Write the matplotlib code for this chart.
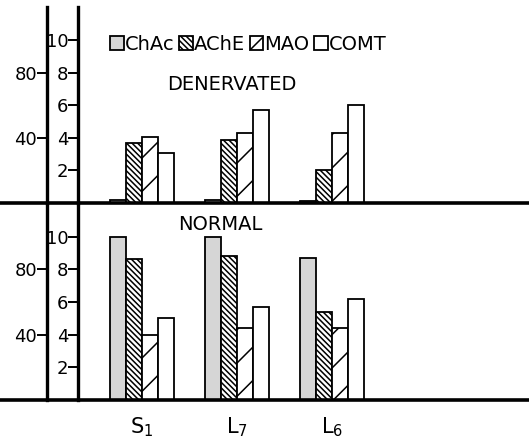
import matplotlib
matplotlib.use('Agg')
import matplotlib.pyplot as plt
import numpy as np

# values (inner scale 0-10, outer scale = inner x 10)
sites = ['S$_1$', 'L$_7$', 'L$_6$']
enzymes = ['ChAc', 'AChE', 'MAO', 'COMT']

den_chac = [0.2, 0.2, 0.1]
den_ache = [3.7, 3.9, 2.0]
den_mao = [4.05, 4.3, 4.3]
den_comt = [3.1, 5.7, 6.05]

nor_chac = [10.0, 10.0, 8.7]
nor_ache = [8.6, 8.8, 5.4]
nor_mao = [4.0, 4.4, 4.4]
nor_comt = [5.0, 5.7, 6.15]

inner_ticks = [2, 4, 6, 8, 10]
outer_ticks = [40, 80]

plt.rcParams['font.family'] = 'DejaVu Sans'
plt.rcParams['hatch.linewidth'] = 1.1

W, H = 529, 442
fig = plt.figure(figsize=(W / 100, H / 100), dpi=100)

faces = ['#d6d6d6', 'white', 'white', 'white']
hatches = ['', '\\' * 6, '/', '']
bar_w = 0.168
offsets = (np.arange(4) - 1.5) * bar_w
x = np.arange(len(sites))


def panel(rect, series, label, label_pos):
    ax = fig.add_axes(rect)
    ax.patch.set_visible(False)
    for i, vals in enumerate(series):
        ax.bar(x + offsets[i], vals, bar_w, color=faces[i], hatch=hatches[i],
               edgecolor='black', linewidth=1.3, label=enzymes[i], zorder=2)
    ax.set_xlim(-142 / 95, (W - 142) / 95)
    ax.set_ylim(0, 12.05)
    for s in ['top', 'right']:
        ax.spines[s].set_visible(False)
    ax.spines['bottom'].set_linewidth(2.6)
    ax.spines['left'].set_linewidth(2.4)
    ax.spines['left'].set_position(('axes', 78 / W))
    ax.set_yticks(inner_ticks)
    ax.tick_params(axis='y', direction='out', length=7, width=1.4,
                   labelsize=13, pad=0)

    sec = ax.secondary_yaxis(47 / W, functions=(lambda v: v * 10, lambda v: v / 10))
    sec.set_yticks(outer_ticks)
    sec.spines['left'].set_linewidth(2.4)
    sec.tick_params(axis='y', direction='out', length=7, width=1.4,
                    labelsize=13, pad=0)

    ax.text(label_pos[0], label_pos[1], label, transform=ax.transAxes,
            ha='center', va='center', fontsize=14)
    return ax


top = panel([0, (H - 203) / H, 1, 196 / H],
            [den_chac, den_ache, den_mao, den_comt], 'DENERVATED',
            (232 / W, (203 - 84) / 196))
top.set_xticks([])

bot = panel([0, (H - 400) / H, 1, 197 / H],
            [nor_chac, nor_ache, nor_mao, nor_comt], 'NORMAL',
            (220 / W, (400 - 225) / 197))
bot.set_xticks(x)
bot.set_xticklabels(sites, fontsize=15)
bot.tick_params(axis='x', length=0, pad=11)

top.legend(loc='center left', bbox_to_anchor=(110 / W, (203 - 44) / 196), ncol=4,
           frameon=False, fontsize=14, handlelength=0.7, handleheight=0.7,
           handletextpad=0.05, columnspacing=0.25, borderpad=0, borderaxespad=0)

fig.savefig('out.png', dpi=100)
